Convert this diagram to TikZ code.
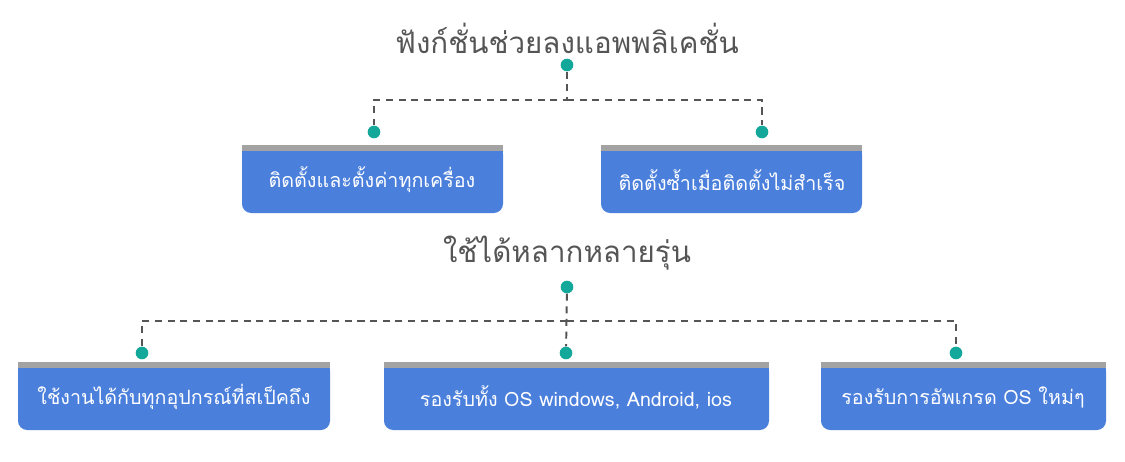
\documentclass[tikz,border=0pt]{standalone}
\usepackage{fontspec}
\newfontfamily\thaifont[Script=Thai]{Loma}
\definecolor{boxblue}{HTML}{4A7FDC}
\definecolor{stripgray}{HTML}{A3A3A3}
\definecolor{dotteal}{HTML}{13A89A}
\definecolor{titlegray}{HTML}{555555}
\tikzset{
  title/.style={font=\thaifont\fontsize{21}{25}\selectfont,text=titlegray},
  boxtext/.style={font=\thaifont\fontsize{14}{17}\selectfont,text=white},
  dot/.style={circle,fill=dotteal,inner sep=0pt,minimum size=9pt},
  dashline/.style={dashed,dash pattern=on 5pt off 4pt,line width=1.4pt,titlegray}
}
\newcommand{\optbox}[4]{% name, x1, x2, top y
  \path (#2,#4) coordinate (#1nw) (#3,#4+68) coordinate (#1se);
  \fill[boxblue,rounded corners=6.5pt] (#1nw) rectangle (#1se);
  \fill[boxblue] (#1nw) rectangle (#3,#4+30);
  \fill[stripgray] (#1nw) rectangle (#3,#4+6);
}
\begin{document}
\begin{tikzpicture}[x=0.025cm,y=-0.025cm]
  \useasboundingbox (0,0) rectangle (1125,461);

  % first group
  \node[title] (t1) at (567,38) {ฟังก์ชั่นช่วยลงแอพพลิเคชั่น};
  \node[dot] (d0) at (567,65) {};
  \coordinate (j1) at (567,100);
  \node[dot] (d1) at (374,132) {};
  \node[dot] (d2) at (762,132) {};
  \draw[dashline] (d0) -- (j1) -| (d1);
  \draw[dashline] (j1) -| (d2);

  \optbox{a}{242}{503}{145}
  \optbox{b}{601}{862}{145}
  \node[boxtext] (ta) at (372,180) {ติดตั้งและตั้งค่าทุกเครื่อง};
  \node[boxtext] (tb) at (732,180) {ติดตั้งซ้ำเมื่อติดตั้งไม่สำเร็จ};

  % second group
  \node[title] (t2) at (567,253) {ใช้ได้หลากหลายรุ่น};
  \node[dot] (e0) at (567,287) {};
  \coordinate (j2) at (567,321);
  \node[dot] (e1) at (142,353) {};
  \node[dot] (e2) at (566,353) {};
  \node[dot] (e3) at (956,353) {};
  \draw[dashline] (e0) -- (e2);
  \draw[dashline] (j2) -| (e1);
  \draw[dashline] (j2) -| (e3);

  \optbox{c}{18}{330}{362}
  \optbox{d}{384}{769}{362}
  \optbox{e}{821}{1106}{362}
  \node[boxtext] (tc) at (174,397) {ใช้งานได้กับทุกอุปกรณ์ที่สเป็คถึง};
  \node[boxtext] (td) at (576,397) {รองรับทั้ง OS windows, Android, ios};
  \node[boxtext] (te) at (963,397) {รองรับการอัพเกรด OS ใหม่ๆ};
\end{tikzpicture}
\end{document}
